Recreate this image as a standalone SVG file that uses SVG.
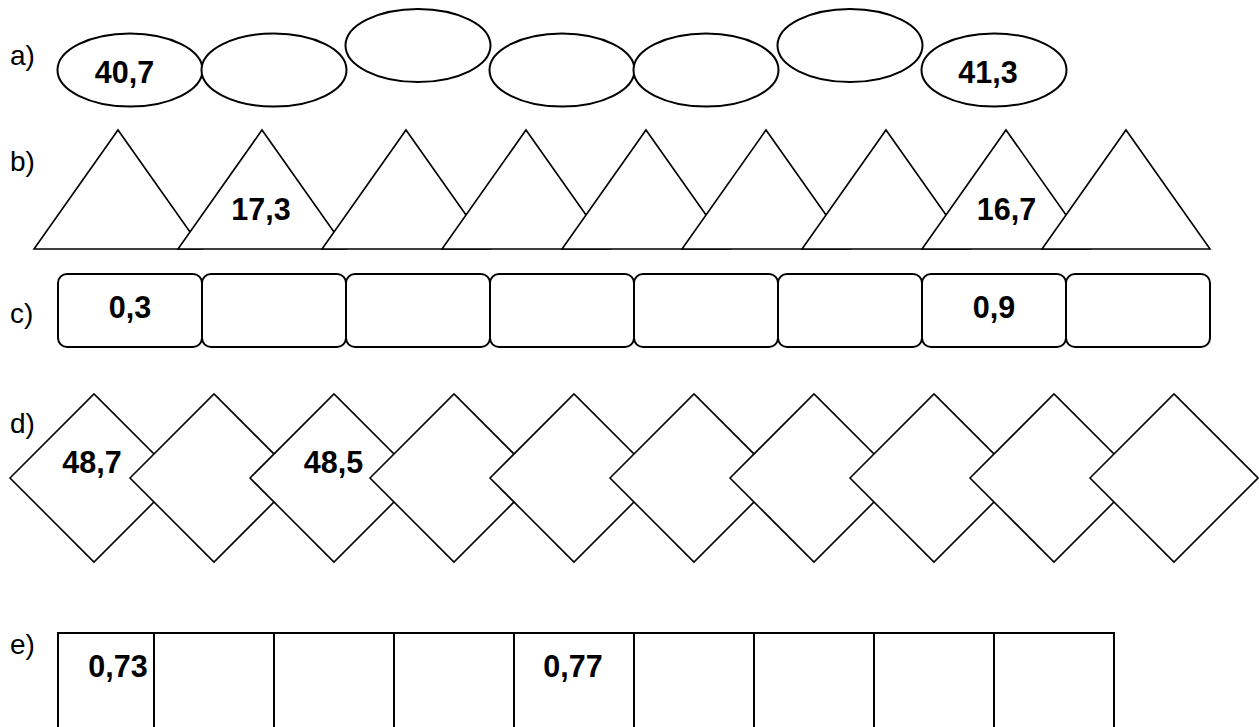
<svg xmlns="http://www.w3.org/2000/svg" width="1259" height="727" viewBox="0 0 1259 727">
<style>
.lbl{font-family:"Liberation Sans",Arial,sans-serif;font-size:28px;fill:#000}
.num{font-family:"Liberation Sans",Arial,sans-serif;font-size:30.5px;font-weight:bold;fill:#000;text-anchor:middle}
.ell{fill:#fff;stroke:#000;stroke-width:2}
.tri{fill:#fff;stroke:#000;stroke-width:1.6;stroke-linejoin:miter}
.box{fill:#fff;stroke:#000;stroke-width:2}
.dia{fill:#fff;stroke:#000;stroke-width:1.6}
.tbl{fill:none;stroke:#000;stroke-width:2}
</style>
<rect width="1259" height="727" fill="#fff"/>
<g id="labels">
<text class="lbl" x="10" y="65">a)</text>
<text class="lbl" x="10" y="171">b)</text>
<text class="lbl" x="10" y="323">c)</text>
<text class="lbl" x="10" y="433">d)</text>
<text class="lbl" x="10" y="654">e)</text>
</g>
<g id="row-a">
<g id="a1"><ellipse class="ell" cx="130" cy="70" rx="72.5" ry="36.5"/><text class="num" x="124.5" y="83">40,7</text></g>
<g id="a2"><ellipse class="ell" cx="274" cy="70" rx="72.5" ry="36.5"/></g>
<g id="a3"><ellipse class="ell" cx="418" cy="45.5" rx="72.5" ry="36.5"/></g>
<g id="a4"><ellipse class="ell" cx="562" cy="70" rx="72.5" ry="36.5"/></g>
<g id="a5"><ellipse class="ell" cx="706" cy="70" rx="72.5" ry="36.5"/></g>
<g id="a6"><ellipse class="ell" cx="850" cy="45.5" rx="72.5" ry="36.5"/></g>
<g id="a7"><ellipse class="ell" cx="994" cy="70" rx="72.5" ry="36.5"/><text class="num" x="988" y="83">41,3</text></g>
</g>
<g id="row-b">
<g id="b1"><polygon class="tri" points="34,249 118,130 202,249"/></g>
<g id="b2"><polygon class="tri" points="178,249 262,130 346,249"/><text class="num" x="261" y="220">17,3</text></g>
<g id="b3"><polygon class="tri" points="322,249 406,130 490,249"/></g>
<g id="b4"><polygon class="tri" points="442,249 526,130 610,249"/></g>
<g id="b5"><polygon class="tri" points="562,249 646,130 730,249"/></g>
<g id="b6"><polygon class="tri" points="682,249 766,130 850,249"/></g>
<g id="b7"><polygon class="tri" points="802,249 886,130 970,249"/></g>
<g id="b8"><polygon class="tri" points="922,249 1006,130 1090,249"/><text class="num" x="1006.5" y="220">16,7</text></g>
<g id="b9"><polygon class="tri" points="1042,249 1126,130 1210,249"/></g>
</g>
<g id="row-c">
<g id="c1"><rect class="box" x="58" y="274" width="144" height="73" rx="9"/><text class="num" x="130" y="318">0,3</text></g>
<g id="c2"><rect class="box" x="202" y="274" width="144" height="73" rx="9"/></g>
<g id="c3"><rect class="box" x="346" y="274" width="144" height="73" rx="9"/></g>
<g id="c4"><rect class="box" x="490" y="274" width="144" height="73" rx="9"/></g>
<g id="c5"><rect class="box" x="634" y="274" width="144" height="73" rx="9"/></g>
<g id="c6"><rect class="box" x="778" y="274" width="144" height="73" rx="9"/></g>
<g id="c7"><rect class="box" x="922" y="274" width="144" height="73" rx="9"/><text class="num" x="994" y="318">0,9</text></g>
<g id="c8"><rect class="box" x="1066" y="274" width="144" height="73" rx="9"/></g>
</g>
<g id="row-d">
<g id="d1"><polygon class="dia" points="10,478 94,394 178,478 94,562"/><text class="num" x="92" y="473">48,7</text></g>
<g id="d2"><polygon class="dia" points="130,478 214,394 298,478 214,562"/></g>
<g id="d3"><polygon class="dia" points="250,478 334,394 418,478 334,562"/><text class="num" x="333.5" y="473">48,5</text></g>
<g id="d4"><polygon class="dia" points="370,478 454,394 538,478 454,562"/></g>
<g id="d5"><polygon class="dia" points="490,478 574,394 658,478 574,562"/></g>
<g id="d6"><polygon class="dia" points="610,478 694,394 778,478 694,562"/></g>
<g id="d7"><polygon class="dia" points="730,478 814,394 898,478 814,562"/></g>
<g id="d8"><polygon class="dia" points="850,478 934,394 1018,478 934,562"/></g>
<g id="d9"><polygon class="dia" points="970,478 1054,394 1138,478 1054,562"/></g>
<g id="d10"><polygon class="dia" points="1090,478 1174,394 1258,478 1174,562"/></g>
</g>
<g id="row-e">
<g id="e1"><rect class="tbl" x="58" y="633" width="96" height="130"/><text class="num" x="118" y="677">0,73</text></g>
<g id="e2"><rect class="tbl" x="154" y="633" width="120" height="130"/></g>
<g id="e3"><rect class="tbl" x="274" y="633" width="120" height="130"/></g>
<g id="e4"><rect class="tbl" x="394" y="633" width="120" height="130"/></g>
<g id="e5"><rect class="tbl" x="514" y="633" width="120" height="130"/><text class="num" x="573" y="677">0,77</text></g>
<g id="e6"><rect class="tbl" x="634" y="633" width="120" height="130"/></g>
<g id="e7"><rect class="tbl" x="754" y="633" width="120" height="130"/></g>
<g id="e8"><rect class="tbl" x="874" y="633" width="120" height="130"/></g>
<g id="e9"><rect class="tbl" x="994" y="633" width="120" height="130"/></g>
</g>
<g id="connectors"/>
</svg>
